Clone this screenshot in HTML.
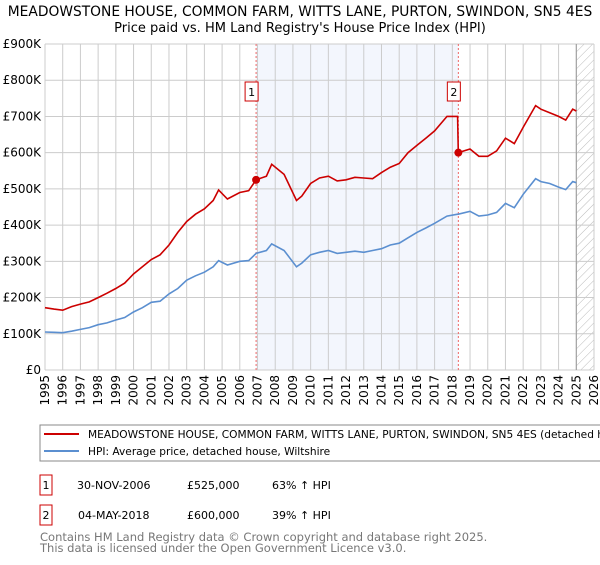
<!DOCTYPE html>
<html><head><meta charset="utf-8"><style>
body{margin:0;background:#fff;width:600px;height:560px;overflow:hidden;font-family:"Liberation Sans","DejaVu Sans",sans-serif}
svg text{font-family:"DejaVu Sans","Liberation Sans",sans-serif}
</style></head><body>
<svg id="c" width="600" height="560">
<defs><pattern id="hatch" width="6" height="6" patternUnits="userSpaceOnUse" patternTransform="rotate(45)"><line x1="0" y1="0" x2="0" y2="6" stroke="#bbb" stroke-width="1"/></pattern></defs>
<text x="300" y="16" font-size="13.8" text-anchor="middle">MEADOWSTONE HOUSE, COMMON FARM, WITTS LANE, PURTON, SWINDON, SN5 4ES</text>
<text x="300" y="32" font-size="13" text-anchor="middle">Price paid vs. HM Land Registry's House Price Index (HPI)</text>
<g id="grid"></g><g id="marks"></g>
<rect x="40" y="425" width="580" height="36" fill="none" stroke="#888"/>
<line x1="44" y1="434" x2="79" y2="434" stroke="#cc0000" stroke-width="2"/>
<text x="88" y="438" font-size="10.6">MEADOWSTONE HOUSE, COMMON FARM, WITTS LANE, PURTON, SWINDON, SN5 4ES (detached house)</text>
<line x1="44" y1="451" x2="79" y2="451" stroke="#5b8fd0" stroke-width="2"/>
<text x="88" y="455" font-size="10.6">HPI: Average price, detached house, Wiltshire</text>
<g font-size="11">
<rect x="40" y="475" width="12" height="20" fill="#fff" stroke="#cc0000"/><text x="46" y="489" text-anchor="middle">1</text>
<text x="77" y="489">30-NOV-2006</text><text x="187" y="489">£525,000</text><text x="272" y="489">63% ↑ HPI</text>
<rect x="40" y="505" width="12" height="20" fill="#fff" stroke="#cc0000"/><text x="46" y="519" text-anchor="middle">2</text>
<text x="78" y="519">04-MAY-2018</text><text x="187" y="519">£600,000</text><text x="272" y="519">39% ↑ HPI</text>
</g>
<text x="40" y="541" font-size="11.5" fill="#777">Contains HM Land Registry data © Crown copyright and database right 2025.</text>
<text x="40" y="552" font-size="11.5" fill="#777">This data is licensed under the Open Government Licence v3.0.</text>
</svg>
<script>
const dates=[1995,1995.5,1996,1996.5,1997,1997.5,1998,1998.5,1999,1999.5,2000,2000.5,2001,2001.5,2002,2002.5,2003,2003.5,2004,2004.5,2004.8,2005.3,2006,2006.5,2006.92,2007.5,2007.8,2008.5,2009.2,2009.5,2010,2010.5,2011,2011.5,2012,2012.5,2013,2013.5,2014,2014.5,2015,2015.5,2016,2016.5,2017,2017.7,2018.3,2018.34,2019,2019.5,2020,2020.5,2021,2021.5,2022,2022.7,2023,2023.5,2024,2024.4,2024.8,2025.0];
const hpi=[105,104,103,107,112,117,125,130,138,145,160,172,187,190,210,225,248,260,270,285,302,290,300,302,322,330,348,330,285,295,318,325,330,322,325,328,325,330,335,345,350,365,380,392,405,425,430,430,438,425,428,435,460,448,485,528,520,515,505,498,520,517];
const red=[172,168,165,175,182,188,200,212,225,240,265,285,305,318,345,380,410,430,445,468,497,472,490,495,525,535,568,540,468,480,515,530,535,522,525,532,530,528,545,560,570,600,620,640,660,700,700,600,610,590,590,605,640,625,670,730,720,710,700,690,720,715];
const yTicks=[0,100,200,300,400,500,600,700,800,900];
const yLabels=["£0","£100K","£200K","£300K","£400K","£500K","£600K","£700K","£800K","£900K"];
const years=[1995,1996,1997,1998,1999,2000,2001,2002,2003,2004,2005,2006,2007,2008,2009,2010,2011,2012,2013,2014,2015,2016,2017,2018,2019,2020,2021,2022,2023,2024,2025,2026];
const saleDates=[2006.92,2018.34];
const salePrices=[525,600];
const saleLabels=["1","2"];
const X0=45,X1=594,Y0=370,Y1=44;
const x=v=>X0+(v-1995)/31*(X1-X0);
const y=v=>Y0-v/900*(Y0-Y1);
const NS="http://www.w3.org/2000/svg";
function mk(p,t,a){const e=document.createElementNS(NS,t);for(const k in a)e.setAttribute(k,a[k]);p.appendChild(e);return e;}
const g=document.getElementById('grid'),m=document.getElementById('marks');
let sh=mk(g,'rect',{x:x(saleDates[0]),y:Y1,width:x(saleDates[1])-x(saleDates[0]),height:Y0-Y1,fill:'#eef2fc',opacity:0.7});


let ht=mk(g,'rect',{x:x(2025.0),y:Y1,width:X1-x(2025.0),height:Y0-Y1,fill:'url(#hatch)'});


yTicks.forEach((t,i)=>{
 mk(g,'line',{x1:X0,x2:X1,y1:y(t),y2:y(t),stroke:'#ccc'});
 const tx=mk(g,'text',{x:X0-4,y:y(t)+4,'font-size':12,'text-anchor':'end'});tx.textContent=yLabels[i];
 
 
});
years.forEach(yr=>{
 mk(g,'line',{x1:x(yr),x2:x(yr),y1:Y1,y2:Y0,stroke:'#ccc'});
 const tx=mk(g,'text',{transform:`translate(${x(yr)+4},${Y0+5}) rotate(-90)`,'font-size':12,'text-anchor':'end'});tx.textContent=yr;
 
 
});
mk(g,'line',{x1:x(2025.0),x2:x(2025.0),y1:Y1,y2:Y0,stroke:'#999'});
saleDates.forEach((d,i)=>{
 mk(m,'line',{x1:x(d),x2:x(d),y1:Y1,y2:Y0,stroke:'#e66','stroke-dasharray':'2,2'});
});
const pts=a=>a.map((v,i)=>x(dates[i]).toFixed(1)+','+y(v).toFixed(1)).join(' ');
let hl=mk(m,'polyline',{points:pts(hpi),fill:'none',stroke:'#5b8fd0','stroke-width':1.6});


let rl=mk(m,'polyline',{points:pts(red),fill:'none',stroke:'#cc0000','stroke-width':1.6});


saleDates.forEach((d,i)=>{
 const c=mk(m,'circle',{cx:x(d),cy:y(salePrices[i]),r:4,fill:'#cc0000'});
 
 
 const b=mk(m,'rect',{x:x(d)-11,y:82,width:13,height:19,fill:'#fff',stroke:'#cc0000'});
 
 
 const t=mk(m,'text',{x:x(d)-4.5,y:96,'font-size':11,'text-anchor':'middle'});t.textContent=saleLabels[i];
});
</script>
</body></html>
